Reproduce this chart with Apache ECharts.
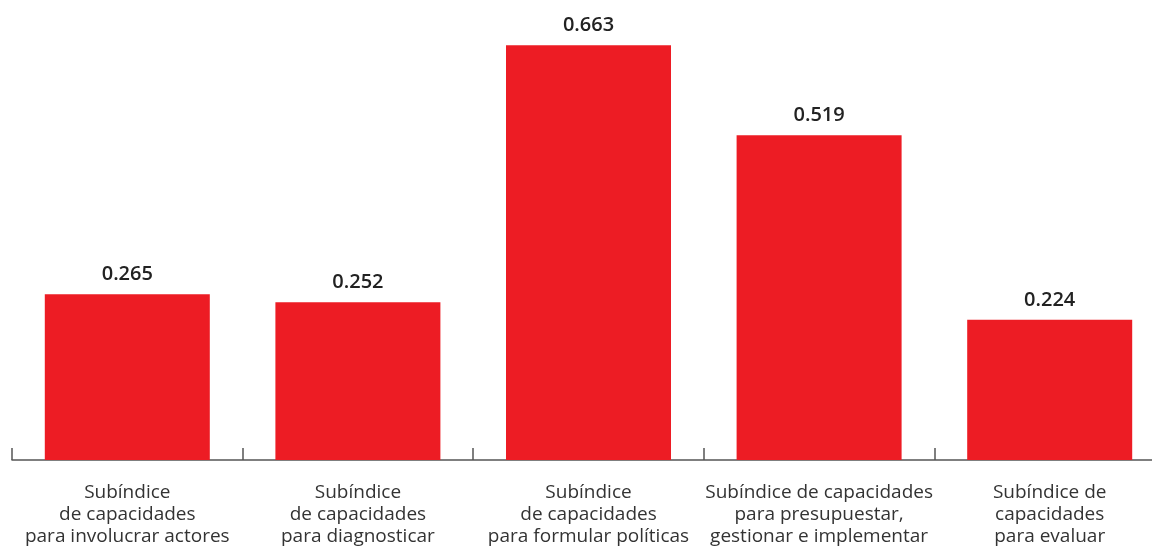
<!DOCTYPE html>
<html>
<head>
<meta charset="utf-8">
<script src="https://cdn.jsdelivr.net/npm/echarts@6/dist/echarts.min.js"></script>
<style>
  html, body { margin: 0; padding: 0; background: #fff; }
  #chart { width: 1152px; height: 546px; }
</style>
</head>
<body>
<div id="chart"></div>
<script>
// Subíndices de capacidades
const categories = [
  'Subíndice\nde capacidades\npara involucrar actores',
  'Subíndice\nde capacidades\npara diagnosticar',
  'Subíndice\nde capacidades\npara formular políticas',
  'Subíndice de capacidades\npara presupuestar,\ngestionar e implementar',
  'Subíndice de\ncapacidades\npara evaluar'
];
const values = [0.265, 0.252, 0.663, 0.519, 0.224];

const chart = echarts.init(document.getElementById('chart'));
chart.setOption({
  animation: false,
  grid: { left: 12, width: 1153, top: 22, height: 438, containLabel: false, outerBoundsMode: 'none' },
  xAxis: {
    type: 'category',
    data: categories,
    axisLine: { lineStyle: { color: '#555', width: 1.5 } },
    axisTick: { show: true, inside: true, length: 12, lineStyle: { color: '#555', width: 1.5 } },
    axisLabel: {
      interval: 0,
      margin: 22,
      color: '#333',
      fontFamily: 'Open Sans',
      fontSize: 19,
      lineHeight: 22,
      align: 'center'
    }
  },
  yAxis: {
    type: 'value',
    min: 0,
    max: 0.7,
    show: false,
    splitLine: { show: false }
  },
  series: [{
    type: 'bar',
    data: values,
    barWidth: 165,
    itemStyle: { color: '#ED1C24' },
    label: {
      show: true,
      position: 'top',
      distance: 10,
      color: '#222',
      fontFamily: 'Open Sans',
      fontWeight: 600,
      fontSize: 20,
      formatter: p => p.value.toFixed(3)
    }
  }]
});
</script>
</body>
</html>
